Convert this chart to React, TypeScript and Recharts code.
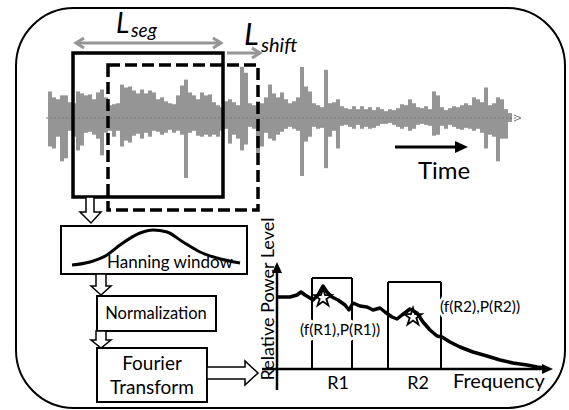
import React from 'react';
import {
  BarChart,
  Bar,
  ComposedChart,
  LineChart,
  Line,
  Scatter,
  XAxis,
  YAxis,
  ZAxis,
  ReferenceLine,
} from 'recharts';

// raw signal envelope, one entry per 4px sample (amplitude above / below centre)
const waveUp = [
  26, 20, 18, 22, 22, 15, 14, 26, 24, 22, 23, 18, 25, 28, 20, 12, 13, 14, 33, 30,
  31, 27, 24, 28, 24, 27, 25, 18, 20, 16, 14, 13, 22, 32, 38, 25, 22, 18, 25, 22,
  23, 15, 12, 10, 16, 18, 15, 12, 51, 45, 14, 12, 16, 14, 20, 33, 24, 20, 25, 18,
  14, 16, 20, 51, 31, 26, 14, 12, 10, 48, 14, 15, 18, 11, 9, 8, 11, 8, 11, 8,
  10, 7, 10, 8, 6, 8, 7, 9, 13, 12, 18, 14, 10, 9, 11, 8, 26, 22, 10, 7,
  9, 11, 10, 12, 14, 12, 20, 18, 15, 30, 12, 14, 20, 18, 8, 4,
];
const waveDown = [
  30, 32, 20, 45, 42, 14, 20, 34, 29, 16, 15, 18, 22, 39, 16, 14, 20, 14, 30, 24,
  26, 19, 17, 22, 16, 20, 14, 15, 18, 16, 13, 16, 14, 18, 62, 16, 14, 19, 20, 18,
  20, 18, 20, 14, 12, 27, 18, 22, 34, 28, 10, 12, 37, 30, 16, 22, 24, 18, 15, 12,
  10, 12, 14, 60, 25, 20, 10, 12, 11, 52, 20, 14, 32, 9, 8, 10, 12, 8, 12, 10,
  12, 11, 9, 7, 7, 6, 8, 10, 12, 10, 14, 12, 8, 7, 8, 9, 19, 18, 9, 12,
  8, 10, 12, 13, 11, 12, 14, 12, 16, 32, 18, 20, 45, 22, 22, 5,
];

// Hanning window sketch: position along the window, height of the curve
const hannPos = [0, 18, 35, 48, 68, 81, 95, 111, 128, 145, 168];
const hannLevel = [0, 3, 10, 20, 32, 35, 33, 23, 13, 7, 2];

// power spectrum (frequency, relative power)
const specFreq = [
  0, 13, 20, 24, 28, 33, 36, 41, 46, 50, 55, 61, 68, 72, 76, 83, 90, 96, 103,
  108, 115, 120, 125, 133, 140, 146, 153, 160, 165, 173, 183, 196, 210, 223, 236,
  250, 260, 268,
];
const specPower = [
  72, 72, 74, 77, 74, 71, 69, 74, 83, 77, 72, 69, 64, 59, 66, 63, 62, 59, 61,
  57, 52, 50, 54, 60, 56, 47, 39, 33, 32, 27, 22, 17, 13, 9, 6,
  4, 2, 1,
];

// peaks picked inside each band
const peakFreq = [46, 136];
const peakPower = [71, 52];

// frequency bands R1, R2: [from, to, box height]
const bandNames = ['R1', 'R2'];
const bandFrom = [35, 111];
const bandTo = [75, 164];
const bandTop = [91, 87];

const waveData = waveUp.map((up, i) => ({ t: i, range: [-waveDown[i], up] }));
const hannData = hannPos.map((pos, i) => ({ pos, level: hannLevel[i] }));
const specData = specFreq.map((f, i) => ({ f, p: specPower[i] }));
const peakData = peakFreq.map((f, i) => ({ f, p: peakPower[i] }));

const FONT = 'Lato, "Open Sans", sans-serif';
const GREY = '#959595';

const ArrowAxis = (props: any) => {
  const { x1, y1, x2, y2 } = props;
  const a = Math.atan2(y2 - y1, x2 - x1);
  const len = 11;
  const w = 5;
  const bx = x2 - len * Math.cos(a);
  const by = y2 - len * Math.sin(a);
  const px = -Math.sin(a) * w;
  const py = Math.cos(a) * w;
  return (
    <g>
      <line x1={x1} y1={y1} x2={bx} y2={by} stroke="#000" strokeWidth={2.5} />
      <polygon points={`${x2},${y2} ${bx + px},${by + py} ${bx - px},${by - py}`} fill="#000" />
    </g>
  );
};

function Waveform() {
  return (
    <div style={{ position: 'absolute', left: 48, top: 58 }}>
      <BarChart
        width={464}
        height={120}
        data={waveData}
        margin={{ top: 0, right: 0, bottom: 0, left: 0 }}
        barCategoryGap={0}
        barGap={0}
      >
        <XAxis dataKey="t" hide />
        <YAxis hide domain={[-60, 60]} />
        <Bar dataKey="range" fill={GREY} isAnimationActive={false} />
      </BarChart>
    </div>
  );
}

function HanningCurve() {
  return (
    <div style={{ position: 'absolute', left: 68, top: 223 }}>
      <LineChart width={176} height={45} data={hannData} margin={{ top: 0, right: 0, bottom: 0, left: 0 }}>
        <XAxis dataKey="pos" type="number" domain={[-4, 172]} hide />
        <YAxis hide domain={[-3, 42]} />
        <Line
          dataKey="level"
          type="monotone"
          stroke="#000"
          strokeWidth={3}
          dot={false}
          isAnimationActive={false}
        />
      </LineChart>
    </div>
  );
}

function Spectrum() {
  return (
    <div style={{ position: 'absolute', left: 262, top: 258 }}>
      <ComposedChart width={295} height={132} data={specData} margin={{ top: 0, right: 0, bottom: 0, left: 0 }}>
        <XAxis dataKey="f" type="number" domain={[-15, 280]} hide />
        <YAxis hide domain={[-21, 111]} />
        <ZAxis range={[95, 95]} />
        <ReferenceLine segment={[{ x: -15, y: 0 }, { x: 276, y: 0 }]} shape={ArrowAxis} />
        <ReferenceLine segment={[{ x: 0, y: -21 }, { x: 0, y: 107 }]} shape={ArrowAxis} />
        {bandNames.map((name, i) => (
          <React.Fragment key={name}>
            <ReferenceLine segment={[{ x: bandFrom[i], y: 0 }, { x: bandFrom[i], y: bandTop[i] }]} stroke="#000" strokeWidth={2} />
            <ReferenceLine segment={[{ x: bandFrom[i], y: bandTop[i] }, { x: bandTo[i], y: bandTop[i] }]} stroke="#000" strokeWidth={2} />
            <ReferenceLine segment={[{ x: bandTo[i], y: bandTop[i] }, { x: bandTo[i], y: 0 }]} stroke="#000" strokeWidth={2} />
          </React.Fragment>
        ))}
        <Line
          dataKey="p"
          type="linear"
          stroke="#000"
          strokeWidth={3.5}
          strokeLinejoin="round"
          dot={false}
          isAnimationActive={false}
        />
        <Scatter
          data={peakData}
          dataKey="p"
          shape="star"
          fill="none"
          stroke="#000"
          strokeWidth={1.8}
          isAnimationActive={false}
        />
      </ComposedChart>
    </div>
  );
}

const halo = { stroke: '#fff', strokeWidth: 5, paintOrder: 'stroke' as const };

function Overlay() {
  return (
    <svg
      width={569}
      height={410}
      style={{ position: 'absolute', left: 0, top: 0, pointerEvents: 'none' }}
      fontFamily={FONT}
    >
      {/* outer frame */}
      <rect x={16} y={8} width={549} height={400} rx={58} ry={58} fill="none" stroke="#000" strokeWidth={2} />

      {/* time axis of the raw signal */}
      <line x1={46} y1={118} x2={518} y2={118} stroke="#777" strokeWidth={1} strokeDasharray="2 2" />
      <polyline points="514,115 521,118 514,121" fill="none" stroke="#777" strokeWidth={1} />

      {/* segment windows */}
      <rect x={73} y={53} width={150} height={144} fill="none" stroke="#000" strokeWidth={3.5} />
      <rect x={108} y={65} width={150} height={145} fill="none" stroke="#000" strokeWidth={3.5} strokeDasharray="12 5" />

      {/* L_seg arrow */}
      <line x1={77} y1={43} x2={220} y2={43} stroke={GREY} strokeWidth={3} />
      <polyline points="84,38 76,43 84,48" fill="none" stroke={GREY} strokeWidth={3} />
      <polyline points="213,38 221,43 213,48" fill="none" stroke={GREY} strokeWidth={3} />
      <text fontStyle="italic" fill="#000">
        <tspan x={116} y={33} fontSize={28}>L</tspan>
        <tspan x={131} y={37} fontSize={19}>seg</tspan>
      </text>

      {/* L_shift arrow */}
      <line x1={227} y1={53} x2={259} y2={53} stroke={GREY} strokeWidth={3} />
      <polyline points="252,48 260,53 252,58" fill="none" stroke={GREY} strokeWidth={3} />
      <text fontStyle="italic" fill="#000">
        <tspan x={244} y={45} fontSize={31}>L</tspan>
        <tspan x={261} y={52} fontSize={20}>shift</tspan>
      </text>

      {/* Time */}
      <line x1={395} y1={147} x2={456} y2={147} stroke="#000" strokeWidth={3} />
      <polygon points="468,147 455,141 455,153" fill="#000" />
      <text x={418} y={179} fontSize={24} fill="#000">Time</text>

      {/* processing chain */}
      <polygon points="86,197 94,197 94,212 101,212 91,223 80,212 86,212" fill="#fff" stroke="#000" strokeWidth={1.5} />
      <rect x={61} y={226} width={186} height={48} fill="none" stroke="#000" strokeWidth={2} />
      <text x={107} y={268} fontSize={17} fill="#000">Hanning window</text>

      <polygon points="96,274 106,274 106,286 111,286 101,295 91,286 96,286" fill="#fff" stroke="#000" strokeWidth={1.5} />
      <rect x={97} y={296} width={119} height={35} fill="#fff" stroke="#000" strokeWidth={2} />
      <text x={156} y={319} fontSize={16.5} textAnchor="middle" fill="#000">Normalization</text>

      <polygon points="96,331 106,331 106,340 111,340 101,348 91,340 96,340" fill="#fff" stroke="#000" strokeWidth={1.5} />
      <rect x={97} y={348} width={110} height={54} fill="#fff" stroke="#000" strokeWidth={2} />
      <text x={152} y={370} fontSize={19} textAnchor="middle" fill="#000">Fourier</text>
      <text x={152} y={394} fontSize={19} textAnchor="middle" fill="#000">Transform</text>

      <polygon points="207,367 245,367 245,361 258,373 245,385 245,379 207,379" fill="#fff" stroke="#000" strokeWidth={1.5} />

      {/* spectrum labels */}
      <text
        transform="translate(274,299) rotate(-90)"
        fontSize={18}
        textAnchor="middle"
        fill="#000"
      >
        Relative Power Level
      </text>
      <text x={340} y={335} fontSize={15.5} textAnchor="middle" fill="#000" {...halo}>(f(R1),P(R1))</text>
      <text x={480} y={312} fontSize={15.5} textAnchor="middle" fill="#000" {...halo}>(f(R2),P(R2))</text>
      <text x={338} y={389} fontSize={18} textAnchor="middle" fill="#000">{bandNames[0]}</text>
      <text x={418} y={389} fontSize={18} textAnchor="middle" fill="#000">{bandNames[1]}</text>
      <text x={453} y={388} fontSize={20} fill="#000">Frequency</text>
    </svg>
  );
}

export default function App() {
  return (
    <div
      style={{
        position: 'absolute',
        left: 0,
        top: 0,
        width: 569,
        height: 410,
        background: '#fff',
        overflow: 'hidden',
      }}
    >
      <Waveform />
      <HanningCurve />
      <Spectrum />
      <Overlay />
    </div>
  );
}
